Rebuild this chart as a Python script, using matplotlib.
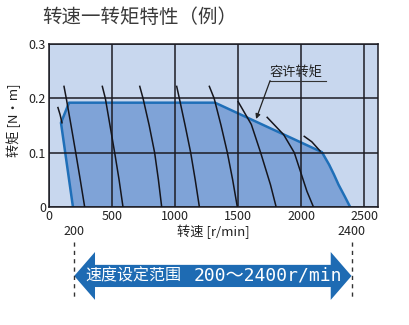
import matplotlib
matplotlib.use('Agg')
import matplotlib.pyplot as plt
import matplotlib.transforms as mtransforms
from matplotlib.patches import Polygon

plt.rcParams['font.family'] = ['Liberation Sans Narrow', 'Noto Sans CJK SC', 'DejaVu Sans']

# axis ticks
xticks = [0, 500, 1000, 1500, 2000, 2500]
yticks = [0, 0.1, 0.2, 0.3]
ytick_labels = ['0', '0.1', '0.2', '0.3']

# allowable torque envelope (speed r/min, torque N·m)
limit_speed = [190, 95, 159, 1317, 2165, 2222, 2260, 2297, 2345, 2389]
limit_torque = [0, 0.155, 0.192, 0.192, 0.101, 0.078, 0.06, 0.041, 0.02, 0]

# full speed-torque curves, speed read at these torque levels
curve_levels = [0.222, 0.2, 0.15, 0.1, 0.05, 0]
full_curves = [
    [119, 137, 175, 212, 248, 283],
    [423, 447, 484, 521, 556, 587],
    [720, 746, 795, 838, 868, 894],
    [1013, 1034, 1080, 1124, 1160, 1193],
    [1272, 1310, 1365, 1415, 1457, 1494],
]

# curves that start lower / stop at the envelope
part_speeds = [
    [71, 88, 103],
    [1500, 1605, 1679, 1757, 1802],
    [1731, 1862, 1946, 2046, 2098],
    [2025, 2085, 2151],
]
part_torques = [
    [0.183, 0.17, 0.155],
    [0.194, 0.152, 0.1, 0.041, 0],
    [0.165, 0.133, 0.1, 0.029, 0],
    [0.13, 0.12, 0.103],
]

range_lo, range_hi = 200, 2400
range_text_cn = '速度设定范围'
range_text_num = '200～2400r/min'

bg_col = '#C8D7EE'
fill_col = '#7FA3D7'
edge_col = '#1F6FB8'
arrow_col = '#1E6BB3'
grid_col = '#1c1c24'

fig = plt.figure(figsize=(4.09, 3.25), dpi=100)
ax = fig.add_axes([49 / 409, 118 / 325, 329 / 409, 163 / 325])
ax.set_facecolor(bg_col)
ax.set_xlim(0, 2610)
ax.set_ylim(0, 0.3)

ax.fill(limit_speed, limit_torque, color=fill_col, zorder=1, lw=0)
ax.plot(limit_speed, limit_torque, color=edge_col, lw=1.8, zorder=2,
        solid_joinstyle='round')

ax.set_xticks(xticks)
ax.set_yticks(yticks)
ax.set_yticklabels(ytick_labels)
ax.grid(True, color=grid_col, lw=1.1, zorder=3)
ax.set_axisbelow(False)
ax.tick_params(length=0, labelsize=9, pad=2, colors='#222222')
for s in ax.spines.values():
    s.set_color(grid_col)
    s.set_linewidth(1.1)

for sp in full_curves:
    ax.plot(sp, curve_levels, color='#15151c', lw=1.1, zorder=4)
for sp, tq in zip(part_speeds, part_torques):
    ax.plot(sp, tq, color='#15151c', lw=1.1, zorder=4)

# annotation for allowable torque
ax.text(1960, 0.247, '容许转矩', ha='center', va='center', fontsize=9.5,
        family=['Noto Sans CJK SC'], color='#222222', zorder=5)
ax.plot([1754, 2197], [0.2326, 0.2326], color='#333333', lw=0.8, zorder=5)
ax.annotate('', xy=(1643, 0.162), xytext=(1754, 0.2326),
            arrowprops=dict(arrowstyle='-|>', color='#222222', lw=0.9,
                            mutation_scale=7, shrinkA=0, shrinkB=0), zorder=5)

# below-axis part: speed range
trans = mtransforms.blended_transform_factory(ax.transData, ax.transAxes)
for v in (range_lo, range_hi):
    ax.plot([v, v], [-0.215, -0.55], transform=trans, clip_on=False,
            color='#333333', lw=1.0, ls=(0, (3, 3)))
    ax.text(v, -0.153, str(v), transform=trans, ha='center', va='center',
            fontsize=9, color='#222222')
ax.text(0.5, -0.153, '转速 [r/min]', transform=ax.transAxes, ha='center',
        va='center', fontsize=9.5, color='#222222')

yc, bh, hh, hl = -0.423, 0.068, 0.147, 165
pts = [(range_lo, yc), (range_lo + hl, yc + hh), (range_lo + hl, yc + bh),
       (range_hi - hl, yc + bh), (range_hi - hl, yc + hh), (range_hi, yc),
       (range_hi - hl, yc - hh), (range_hi - hl, yc - bh),
       (range_lo + hl, yc - bh), (range_lo + hl, yc - hh)]
ax.add_patch(Polygon(pts, closed=True, transform=trans, clip_on=False,
                     facecolor=arrow_col, edgecolor='none'))
ax.text(285, yc, range_text_cn, transform=trans, ha='left', va='center',
        fontsize=11.5, color='white', family=['Noto Sans CJK SC'])
ax.text(1150, yc, range_text_num, transform=trans, ha='left', va='center',
        fontsize=13, color='white', family=['DejaVu Sans Mono', 'Noto Sans CJK SC'])

fig.text(42 / 409, 1 - 17 / 325, '转速一转矩特性（例）', ha='left', va='center',
         fontsize=14, color='#3a3a3a', family=['Noto Sans CJK SC'])
fig.text(14 / 409, 1 - 120 / 325, '转矩 [N·m]', ha='center', va='center',
         rotation=90, fontsize=9.5, color='#222222')

fig.savefig('out.png', dpi=100)
